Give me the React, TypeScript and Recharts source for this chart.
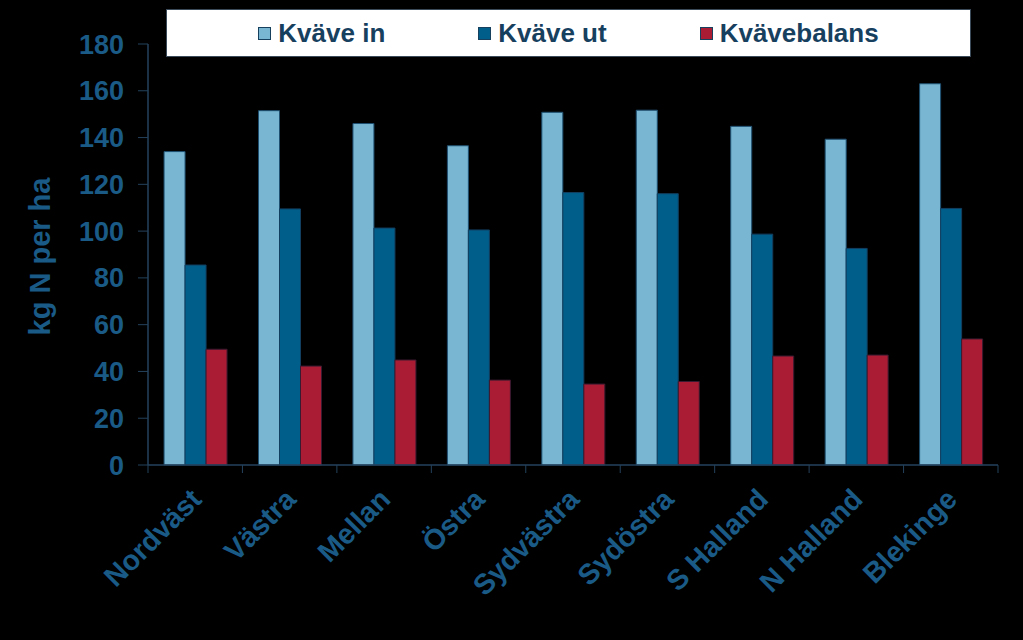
import React from 'react';
import { BarChart, Bar, XAxis, YAxis } from 'recharts';

const regions = ['Nordväst', 'Västra', 'Mellan', 'Östra', 'Sydvästra', 'Sydöstra', 'S Halland', 'N Halland', 'Blekinge'];
const kvaveIn = [134, 151.5, 146, 136.5, 150.8, 151.7, 144.8, 139.3, 163];
const kvaveUt = [85.5, 109.5, 101.3, 100.5, 116.5, 116, 98.7, 92.6, 109.7];
const kvavebalans = [49.5, 42.3, 44.9, 36.3, 34.6, 35.7, 46.6, 47, 53.9];
const yTicks = [0, 20, 40, 60, 80, 100, 120, 140, 160, 180];

const seriesNames = ['Kväve in', 'Kväve ut', 'Kvävebalans'];
const seriesColors = ['#78B6D1', '#005E8A', '#A91C33'];

const data = regions.map((r, i) => ({
  region: r,
  in: kvaveIn[i],
  ut: kvaveUt[i],
  bal: kvavebalans[i],
}));

const W = 1023;
const H = 640;
const MARGIN = { top: 44, right: 25, bottom: 0, left: 0 };
const Y_WIDTH = 148;
const X_HEIGHT = 175;
const FONT = '"Liberation Sans", Arial, Helvetica, sans-serif';
const TEXT_COLOR = '#1A5A86';
const AXIS_COLOR = '#24425C';

const band = (W - MARGIN.left - MARGIN.right - Y_WIDTH) / regions.length;

const XTick = (props: any) => {
  const { x, y, payload, index } = props;
  const axisY = y - 8;
  const tx = x + 8;
  const ty = axisY + 36;
  return (
    <g>
      <line x1={x - band / 2} x2={x - band / 2} y1={axisY} y2={axisY + 8} stroke={AXIS_COLOR} strokeWidth={1} />
      {index === regions.length - 1 && (
        <line x1={x + band / 2} x2={x + band / 2} y1={axisY} y2={axisY + 8} stroke={AXIS_COLOR} strokeWidth={1} />
      )}
      <text
        x={tx}
        y={ty}
        textAnchor="end"
        transform={`rotate(-45, ${tx}, ${ty})`}
        fill={TEXT_COLOR}
        fontSize={28.5}
        fontWeight="bold"
        fontFamily={FONT}
      >
        {payload.value}
      </text>
    </g>
  );
};

const YLabel = (props: any) => {
  const vb = props.viewBox || { x: 0, y: 0, width: 0, height: 0 };
  const cx = vb.x + 40;
  const cy = vb.y + vb.height / 2 + 2;
  return (
    <text
      x={cx}
      y={cy}
      textAnchor="middle"
      dominantBaseline="central"
      transform={`rotate(-90, ${cx}, ${cy})`}
      fill={TEXT_COLOR}
      fontSize={29}
      fontWeight="bold"
      fontFamily={FONT}
    >
      kg N per ha
    </text>
  );
};

export default function App() {
  return (
    <div style={{ position: 'absolute', left: 0, top: 0, width: W, height: H, background: '#000', overflow: 'hidden' }}>
      <BarChart
        width={W}
        height={H}
        data={data}
        margin={MARGIN}
        barCategoryGap="17%"
        barGap={0}
      >
        <XAxis
          dataKey="region"
          height={X_HEIGHT}
          stroke={AXIS_COLOR}
          axisLine={{ stroke: AXIS_COLOR, strokeWidth: 1.5 }}
          tickLine={false}
          tickSize={0}
          tickMargin={8}
          interval={0}
          tick={<XTick />}
        />
        <YAxis
          width={Y_WIDTH}
          domain={[0, 180]}
          ticks={yTicks}
          interval={0}
          axisLine={{ stroke: AXIS_COLOR, strokeWidth: 1.5 }}
          tickLine={{ stroke: AXIS_COLOR, strokeWidth: 1 }}
          tickSize={10}
          tickMargin={14}
          tick={{ fill: TEXT_COLOR, fontSize: 27, fontWeight: 'bold', fontFamily: FONT }}
          label={<YLabel />}
        />
        <Bar dataKey="in" name={seriesNames[0]} fill={seriesColors[0]} stroke="#1E4F70" strokeWidth={1} isAnimationActive={false} />
        <Bar dataKey="ut" name={seriesNames[1]} fill={seriesColors[1]} stroke="#123F60" strokeWidth={1} isAnimationActive={false} />
        <Bar dataKey="bal" name={seriesNames[2]} fill={seriesColors[2]} stroke="#3A1A30" strokeWidth={1} isAnimationActive={false} />
      </BarChart>
      <div
        style={{
          position: 'absolute',
          left: 166,
          top: 9,
          width: 805,
          height: 48,
          background: '#fff',
          border: '1px solid #3A4A58',
          boxSizing: 'border-box',
          display: 'flex',
          alignItems: 'center',
          justifyContent: 'center',
          gap: 93,
          fontFamily: FONT,
          fontWeight: 'bold',
          fontSize: 26,
          color: '#17405F',
        }}
      >
        {seriesNames.map((n, i) => (
          <div key={n} style={{ display: 'flex', alignItems: 'center' }}>
            <span
              style={{
                display: 'inline-block',
                width: 13,
                height: 13,
                background: seriesColors[i],
                border: '1px solid #17405F',
                marginRight: 7,
                boxSizing: 'border-box',
              }}
            />
            <span>{n}</span>
          </div>
        ))}
      </div>
    </div>
  );
}
